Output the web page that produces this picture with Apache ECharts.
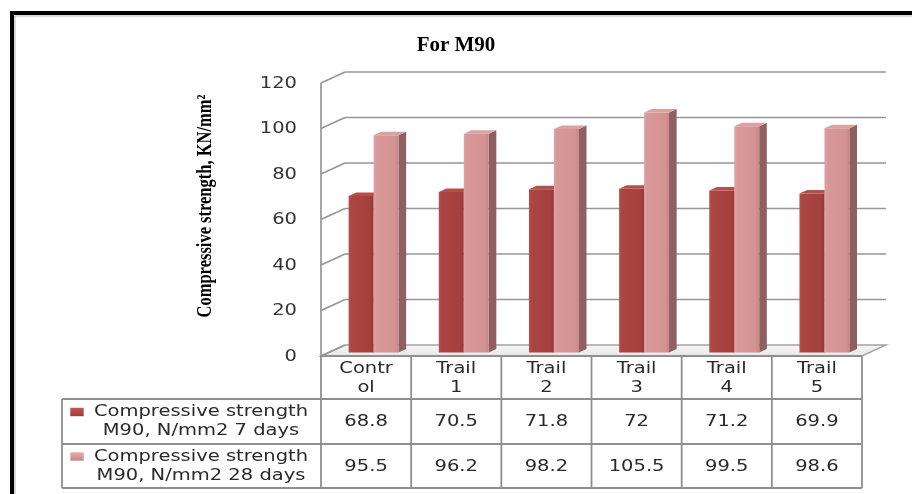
<!DOCTYPE html>
<html>
<head>
<meta charset="utf-8">
<script src="https://cdn.jsdelivr.net/npm/echarts@6/dist/echarts.min.js"></script>
<style>
  html, body { margin: 0; padding: 0; background: #ffffff; }
  #chart { width: 912px; height: 494px; }
</style>
</head>
<body>
<div id="chart"></div>
<script>
// ---- data ----
const categories = ['Control', 'Trail 1', 'Trail 2', 'Trail 3', 'Trail 4', 'Trail 5'];
const strength7 = [68.8, 70.5, 71.8, 72, 71.2, 69.9];
const strength28 = [95.5, 96.2, 98.2, 105.5, 99.5, 98.6];
const seriesNames = [
  'Compressive strength M90, N/mm2 7 days',
  'Compressive strength M90, N/mm2 28 days'
];
const yTicks = [0, 20, 40, 60, 80, 100, 120];

// ---- layout / style ----
const W = 912, H = 494;
const GRID = { left: 321, right: 50, top: 83, bottom: 138 };
const DEPTH_X = 24, DEPTH_Y = 11;          // offset of the back wall
const BAR_SHIFT_X = 7.5, BAR_SHIFT_Y = 3.5; // bars stand a little behind the front plane
const BAR_DEPTH_X = 7.6, BAR_DEPTH_Y = 3.5;
const BAR_RATIO = 0.277;                    // bar width / category band
const LINE_COLOR = '#969696';
const TABLE_LINE = '#8f8f8f';
const SANS = '"DejaVu Sans"';
const STRETCH = 1.3;

const PALETTE = [
  {
    front: new echarts.graphic.LinearGradient(0, 0, 1, 0, [
      { offset: 0, color: '#b7504d' }, { offset: 0.12, color: '#aa4542' },
      { offset: 0.85, color: '#a5403e' }, { offset: 1, color: '#963734' }
    ]),
    side: '#7a2e2c', top: '#b44f4c',
    key: new echarts.graphic.LinearGradient(0, 0, 0, 1, [
      { offset: 0, color: '#c25754' }, { offset: 1, color: '#9b3a38' }
    ])
  },
  {
    front: new echarts.graphic.LinearGradient(0, 0, 1, 0, [
      { offset: 0, color: '#dea6a5' }, { offset: 0.12, color: '#d79897' },
      { offset: 0.85, color: '#d39392' }, { offset: 1, color: '#c68685' }
    ]),
    side: '#8e605f', top: '#dba2a1',
    key: new echarts.graphic.LinearGradient(0, 0, 0, 1, [
      { offset: 0, color: '#e3b0af' }, { offset: 1, color: '#c58584' }
    ])
  }
];

// back wall, side wall, floor and value-axis labels
function renderWalls(params, api) {
  const cs = params.coordSys;
  const t = api.value(1);
  const y = api.coord([0, t])[1];
  const xf = cs.x, xr = cs.x + cs.width;
  const lineStyle = { stroke: LINE_COLOR, lineWidth: 1.7 };
  const children = [];
  if (t === 0) {
    children.push({
      type: 'polygon',
      shape: { points: [[xf, y], [xr, y], [xr + DEPTH_X, y - DEPTH_Y], [xf + DEPTH_X, y - DEPTH_Y]] },
      style: {
        fill: new echarts.graphic.LinearGradient(0, 0, 0, 1, [
          { offset: 0, color: '#f8f8f8' }, { offset: 1, color: '#e6e6e6' }
        ]),
        stroke: '#a3a3a3', lineWidth: 1.4
      }
    });
    children.push({ type: 'line', shape: { x1: xf, y1: y, x2: xf, y2: cs.y }, style: lineStyle });
  } else {
    children.push({
      type: 'line',
      shape: { x1: xf + DEPTH_X, y1: y - DEPTH_Y, x2: xr + DEPTH_X, y2: y - DEPTH_Y },
      style: lineStyle
    });
  }
  children.push({
    type: 'line',
    shape: { x1: xf, y1: y, x2: xf + DEPTH_X, y2: y - DEPTH_Y },
    style: lineStyle
  });
  children.push({
    type: 'text', x: xf - 24, y: y + 1, scaleX: STRETCH,
    style: {
      text: String(t), align: 'right', verticalAlign: 'middle',
      textAlign: 'right', textVerticalAlign: 'middle',
      font: '15px ' + SANS, fill: '#333333'
    }
  });
  return { type: 'group', children };
}

// 3D column: side face, front face, top face
function makeBarRenderer(seriesIdx) {
  const pal = PALETTE[seriesIdx];
  return function (params, api) {
    const i = api.value(0), v = api.value(1);
    const top = api.coord([i, v]);
    const base = api.coord([i, 0]);
    const band = api.size([1, 0])[0];
    const w = band * BAR_RATIO;
    const cx = top[0] + BAR_SHIFT_X;
    const xl = seriesIdx === 0 ? cx - w : cx;
    const xr = xl + w;
    const yt = top[1] - BAR_SHIFT_Y, yb = base[1] - BAR_SHIFT_Y;
    return {
      type: 'group',
      children: [
        {
          type: 'polygon',
          shape: { points: [[xr, yt], [xr + BAR_DEPTH_X, yt - BAR_DEPTH_Y], [xr + BAR_DEPTH_X, yb - BAR_DEPTH_Y], [xr, yb]] },
          style: { fill: pal.side }
        },
        { type: 'rect', shape: { x: xl, y: yt, width: w, height: yb - yt }, style: { fill: pal.front } },
        {
          type: 'polygon',
          shape: { points: [[xl, yt], [xr, yt], [xr + BAR_DEPTH_X, yt - BAR_DEPTH_Y], [xl + BAR_DEPTH_X, yt - BAR_DEPTH_Y]] },
          style: { fill: pal.top }
        }
      ]
    };
  };
}

const chart = echarts.init(document.getElementById('chart'), null, { renderer: 'canvas' });

const option = {
  animation: false,
  backgroundColor: '#ffffff',
  title: {
    text: 'For M90', left: 'center', top: 30,
    textStyle: { fontFamily: 'Liberation Serif', fontWeight: 'bold', fontSize: 21, color: '#000' }
  },
  grid: { left: GRID.left, right: GRID.right, top: GRID.top, bottom: GRID.bottom },
  xAxis: {
    type: 'category', data: categories,
    axisLine: { show: false }, axisTick: { show: false }, axisLabel: { show: false }, splitLine: { show: false }
  },
  yAxis: {
    type: 'value', min: 0, max: 120, interval: 20,
    axisLine: { show: false }, axisTick: { show: false }, axisLabel: { show: false }, splitLine: { show: false }
  },
  series: [
    {
      type: 'custom', name: 'walls', renderItem: renderWalls, clip: false, silent: true, z: 1,
      data: yTicks.map(t => [0, t]), encode: { x: 0, y: 1 }
    },
    {
      type: 'custom', name: seriesNames[0], renderItem: makeBarRenderer(0), clip: false, z: 2,
      data: strength7.map((v, i) => [i, v]), encode: { x: 0, y: 1 }
    },
    {
      type: 'custom', name: seriesNames[1], renderItem: makeBarRenderer(1), clip: false, z: 3,
      data: strength28.map((v, i) => [i, v]), encode: { x: 0, y: 1 }
    }
  ]
};
chart.setOption(option);

// ---- data table under the plot ----
const TABLE = { legendLeft: 62, rowTop: H - GRID.bottom, row1: 399, row2: 444, row3: 488, keyX: 70 };
const gx0 = GRID.left, gx1 = W - GRID.right;
const colW = (gx1 - gx0) / categories.length;
const tableLine = { stroke: TABLE_LINE, lineWidth: 1.8 };

function tableText(text, x, y, opts) {
  return Object.assign({
    type: 'text', x: x, y: y, scaleX: STRETCH, z: 10,
    style: {
      text: text, align: 'center', verticalAlign: 'middle',
      textAlign: 'center', textVerticalAlign: 'middle',
      font: '15px ' + SANS, fill: '#2a2a2a', lineHeight: 19
    }
  }, opts || {});
}

function wrapCategory(name) {
  return name.indexOf(' ') > 0 ? name.replace(' ', '\n') : name.slice(0, 5) + '\n' + name.slice(5);
}

const graphics = [];
// frame
graphics.push({ type: 'rect', z: 20, shape: { x: 12, y: 13, width: W + 40, height: H + 40 }, style: { fill: null, stroke: '#000', lineWidth: 4 } });
graphics.push({ type: 'rect', z: 20, shape: { x: 15, y: 16, width: W + 40, height: H + 40 }, style: { fill: null, stroke: '#b5b5b5', lineWidth: 1 } });

// axis title
graphics.push({
  type: 'text', x: 206, y: 206, rotation: Math.PI / 2, scaleY: 1.25, z: 10,
  style: {
    text: 'Compressive strength, KN/mm\u00B2', align: 'center', verticalAlign: 'middle',
    textAlign: 'center', textVerticalAlign: 'middle',
    font: 'bold 16.5px "Liberation Serif"', fill: '#000'
  }
});

// table grid lines
graphics.push({ type: 'line', z: 9, shape: { x1: gx0, y1: TABLE.rowTop, x2: gx1, y2: TABLE.rowTop }, style: tableLine });
[TABLE.row1, TABLE.row2, TABLE.row3].forEach(y => {
  graphics.push({ type: 'line', z: 9, shape: { x1: TABLE.legendLeft, y1: y, x2: gx1, y2: y }, style: tableLine });
});
graphics.push({ type: 'line', z: 9, shape: { x1: TABLE.legendLeft, y1: TABLE.row1, x2: TABLE.legendLeft, y2: TABLE.row3 }, style: tableLine });
for (let k = 0; k <= categories.length; k++) {
  const x = gx0 + k * colW;
  graphics.push({ type: 'line', z: 9, shape: { x1: x, y1: TABLE.rowTop, x2: x, y2: TABLE.row3 }, style: tableLine });
}

// category names and values
categories.forEach((name, i) => {
  const cx = chart.convertToPixel({ xAxisIndex: 0 }, i);
  graphics.push(tableText(wrapCategory(name), cx, (TABLE.rowTop + TABLE.row1) / 2 + 1));
  graphics.push(tableText(String(strength7[i]), cx, (TABLE.row1 + TABLE.row2) / 2 + 1));
  graphics.push(tableText(String(strength28[i]), cx, (TABLE.row2 + TABLE.row3) / 2 + 1));
});

// legend keys and series names
[[TABLE.row1, TABLE.row2], [TABLE.row2, TABLE.row3]].forEach((rows, s) => {
  const mid = (rows[0] + rows[1]) / 2;
  const parts = seriesNames[s].split(' M90');
  graphics.push({
    type: 'rect', z: 10,
    shape: { x: TABLE.keyX, y: mid - 14, width: 14, height: 9 },
    style: { fill: PALETTE[s].key, stroke: '#ffffff', lineWidth: 0.6 }
  });
  graphics.push(tableText(parts[0] + '\nM90' + parts[1], 201, mid + 0.5));
});

chart.setOption({ graphic: { elements: graphics } });
</script>
</body>
</html>
